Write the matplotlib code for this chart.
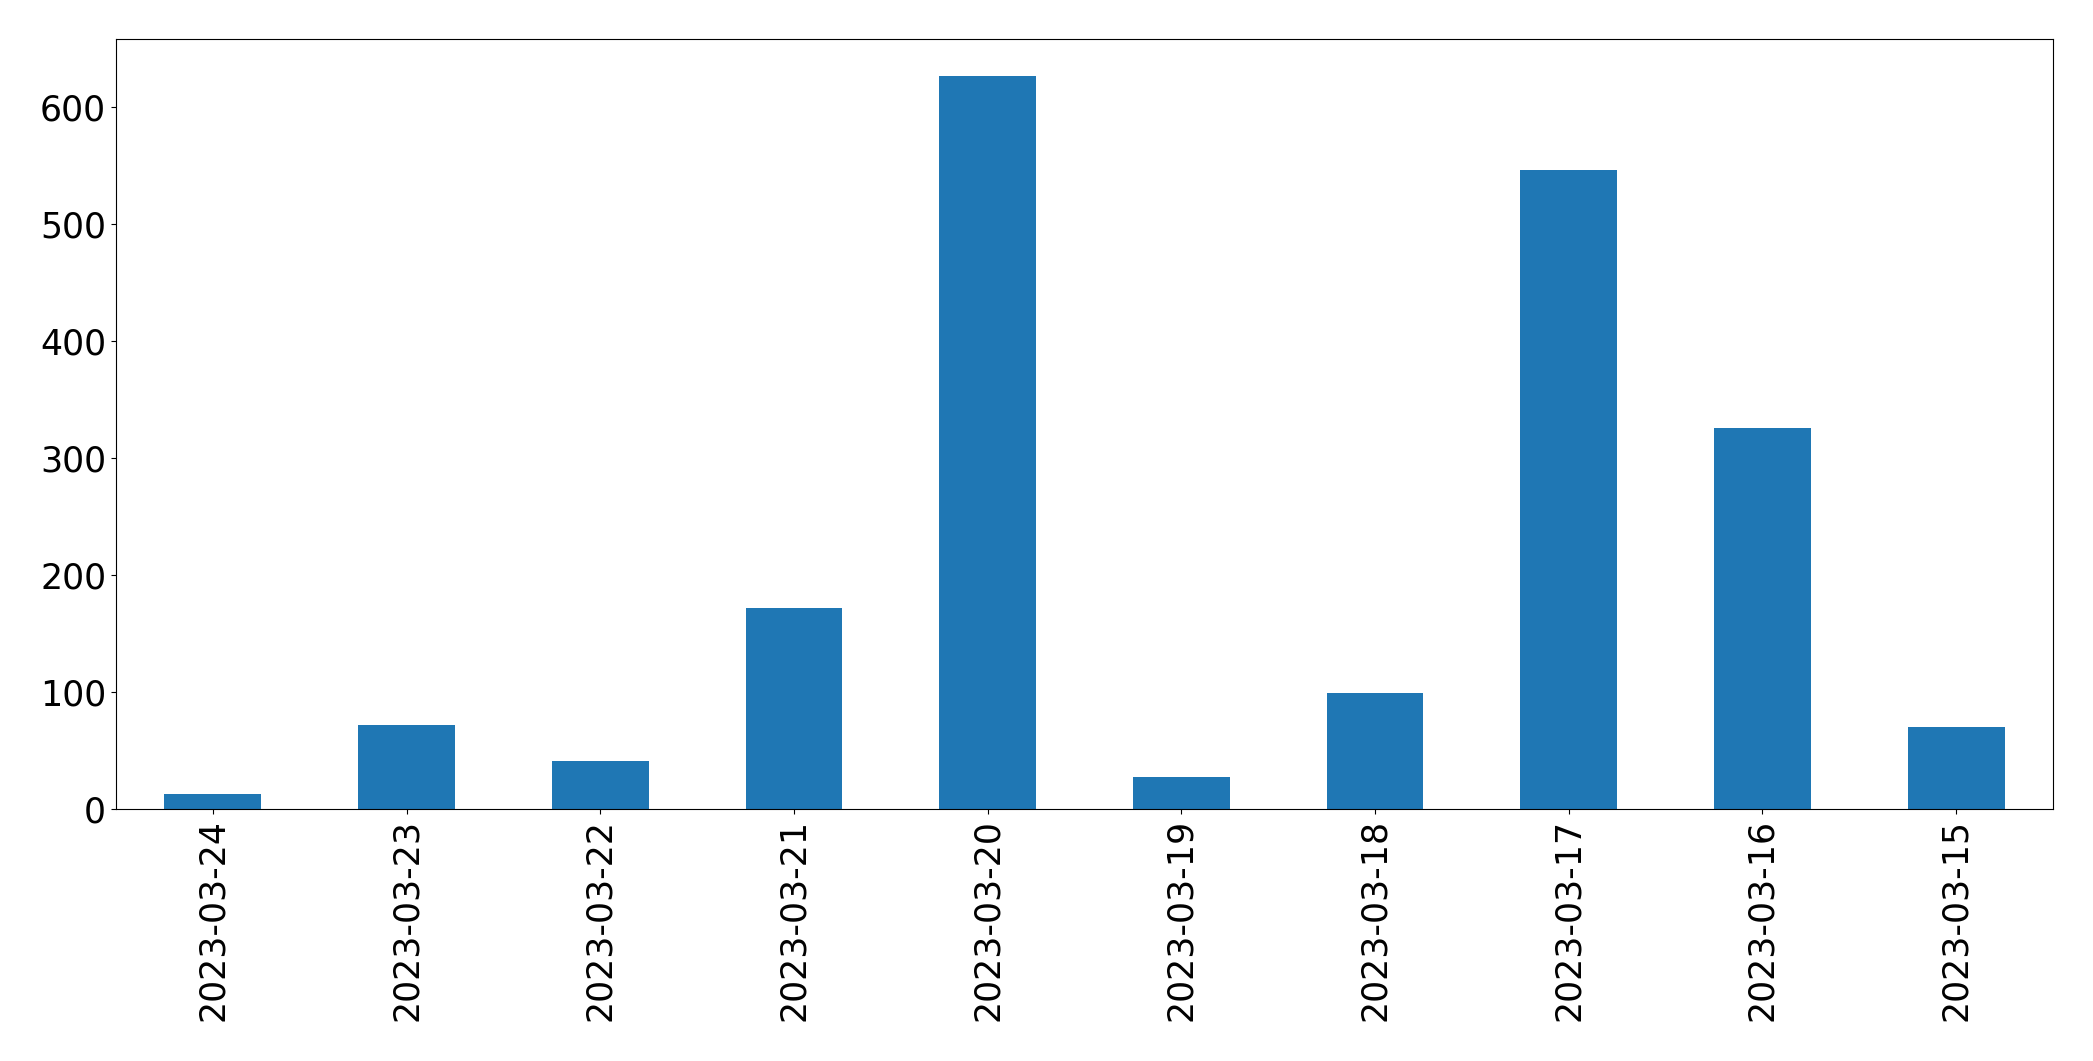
import matplotlib
matplotlib.use("Agg")
import matplotlib.pyplot as plt

# Data
dates = ["2023-03-24", "2023-03-23", "2023-03-22", "2023-03-21", "2023-03-20",
         "2023-03-19", "2023-03-18", "2023-03-17", "2023-03-16", "2023-03-15"]
counts = [13, 72, 41, 172, 627, 28, 99, 546, 326, 70]

fig = plt.figure(figsize=(20.93, 10.61), dpi=100)
ax = fig.add_axes([0.0554, 0.2372, 0.9255, 0.726])

x = range(len(dates))
ax.bar(x, counts, width=0.5, color="#1f77b4")
ax.set_xlim(-0.5, len(dates) - 0.5)
ax.set_ylim(0, max(counts) * 1.05)
ax.set_xticks(list(x))
ax.set_xticklabels(dates, rotation=90)
ax.tick_params(axis="both", labelsize=25)

fig.savefig("out.png", dpi=100)
